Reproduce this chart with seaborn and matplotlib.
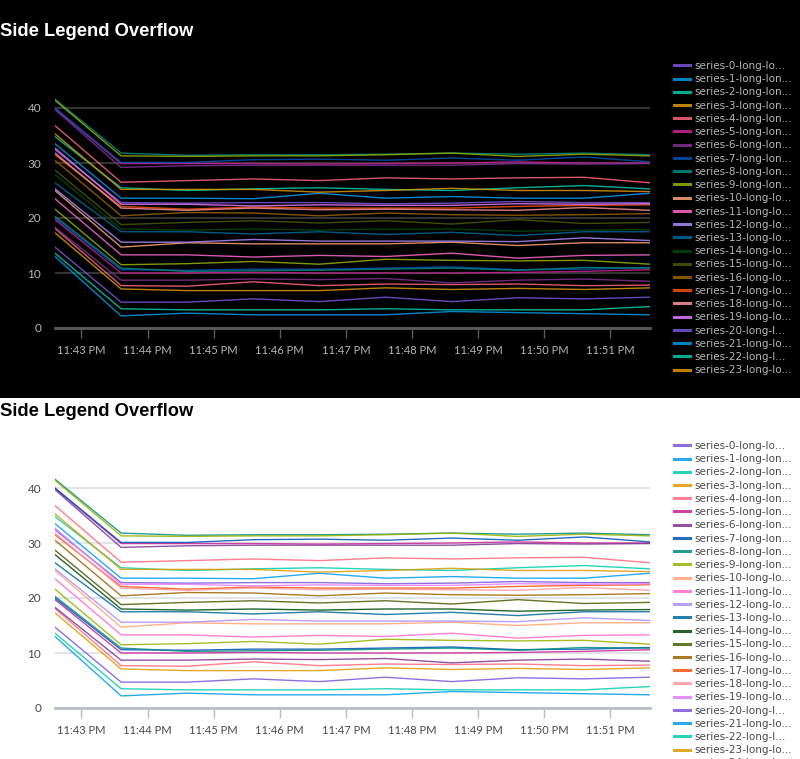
import numpy as np
import pandas as pd
import seaborn as sns
import matplotlib.pyplot as plt
import matplotlib.dates as mdates
from matplotlib.patches import Rectangle

# minutes of the timeline (first point is at 11:42:36 PM)
times = pd.date_range('2023-01-01 23:42:36', periods=10, freq='1min')

# values per series
s0 = [32.4, 22.8, 22.7, 22.8, 22.8, 22.6, 22.7, 23.0, 22.8, 22.8]
s1 = [33.5, 23.6, 23.6, 23.5, 24.5, 23.6, 23.9, 23.6, 23.6, 24.5]
s2 = [34.8, 25.5, 25.0, 25.3, 25.5, 25.2, 25.0, 25.5, 25.9, 25.3]
s3 = [35.3, 25.2, 25.2, 25.2, 24.7, 25.0, 25.4, 25.0, 25.0, 24.8]
s4 = [36.8, 26.5, 26.8, 27.1, 26.8, 27.3, 27.1, 27.3, 27.4, 26.4]
s5 = [39.9, 29.9, 29.9, 29.9, 29.8, 29.9, 30.0, 30.2, 30.0, 30.0]
s6 = [39.7, 29.2, 29.5, 29.6, 29.6, 29.6, 29.6, 29.9, 29.8, 29.9]
s7 = [40.0, 30.1, 30.1, 30.6, 30.7, 30.5, 30.9, 30.5, 31.1, 30.2]
s8 = [41.6, 31.8, 31.4, 31.5, 31.5, 31.6, 31.8, 31.6, 31.8, 31.5]
s9 = [41.4, 31.3, 31.2, 31.3, 31.3, 31.5, 31.8, 31.2, 31.6, 31.3]
s10 = [25.0, 14.7, 15.5, 15.3, 15.3, 15.3, 15.6, 15.0, 15.5, 15.5]
s11 = [23.5, 13.3, 13.3, 12.9, 13.2, 13.0, 13.6, 12.7, 13.2, 13.3]
s12 = [25.3, 15.6, 15.6, 16.1, 15.8, 15.8, 15.8, 15.7, 16.4, 15.9]
s13 = [26.4, 17.5, 17.5, 17.1, 17.5, 17.0, 17.4, 16.8, 17.5, 17.5]
s14 = [27.9, 18.0, 17.8, 18.0, 17.8, 18.0, 18.0, 17.6, 17.8, 17.9]
s15 = [28.7, 18.8, 19.2, 19.5, 19.1, 19.5, 18.9, 19.7, 19.0, 19.2]
s16 = [30.5, 20.4, 21.0, 20.9, 20.4, 20.9, 20.6, 20.5, 20.6, 20.8]
s17 = [31.5, 22.1, 21.6, 22.0, 21.8, 21.8, 21.8, 22.1, 22.3, 22.4]
s18 = [31.8, 21.8, 21.4, 21.8, 21.5, 21.6, 21.5, 21.4, 21.9, 21.4]
s19 = [32.7, 22.5, 22.5, 22.2, 22.4, 22.3, 22.3, 22.6, 22.5, 22.6]
s20 = [14.7, 4.7, 4.7, 5.3, 4.8, 5.6, 4.8, 5.5, 5.3, 5.6]
s21 = [13.0, 2.2, 2.7, 2.4, 2.4, 2.4, 3.0, 2.8, 2.6, 2.4]
s22 = [13.6, 3.5, 3.3, 3.3, 3.3, 3.5, 3.3, 3.3, 3.3, 3.9]
s23 = [17.3, 7.1, 6.8, 6.8, 6.8, 7.3, 7.0, 7.2, 7.0, 7.3]
s24 = [18.1, 7.7, 7.6, 8.4, 7.7, 8.0, 7.9, 8.0, 7.7, 7.8]
s25 = [19.7, 10.0, 10.0, 10.1, 10.0, 10.0, 10.0, 10.1, 10.3, 10.6]
s26 = [18.3, 8.7, 8.7, 8.9, 8.8, 9.0, 8.2, 8.7, 8.9, 8.5]
s27 = [20.0, 10.6, 10.5, 10.7, 10.7, 10.9, 11.1, 10.6, 10.7, 11.0]
s28 = [20.3, 10.9, 10.3, 10.4, 10.5, 10.7, 10.9, 10.5, 11.0, 10.9]
s29 = [21.6, 11.5, 11.7, 12.1, 11.6, 12.5, 12.3, 12.2, 12.3, 11.6]
series_values = [s0, s1, s2, s3, s4, s5, s6, s7, s8, s9,
                 s10, s11, s12, s13, s14, s15, s16, s17, s18, s19,
                 s20, s21, s22, s23, s24, s25, s26, s27, s28, s29]

series_names = ['series-%d-long-long-long-name' % i for i in range(30)]
legend_labels = ['series-0-long-lo...'] + \
    ['series-%d-long-lon...' % i for i in range(1, 10)] + \
    ['series-%d-long-lo...' % i for i in range(10, 20)] + \
    ['series-20-long-l...', 'series-21-long-lo...', 'series-22-long-l...'] + \
    ['series-%d-long-lo...' % i for i in range(23, 30)]

palette = ['#7B56DB', '#009CEB', '#00CDAF', '#DD9900', '#FF677B', '#CB2196',
           '#813193', '#0051B5', '#008C80', '#99B100', '#FFA476', '#FF6ACE',
           '#AE8CFF', '#00689D', '#00490A', '#465D00', '#9D6300', '#F6540B',
           '#FF969E', '#E47BFE']
colors = [palette[i % 20] for i in range(30)]

rows = []
for name, vals in zip(series_names, series_values):
    for t, v in zip(times, vals):
        rows.append({'time': t, 'value': v, 'series': name})
df = pd.DataFrame(rows)

W, H = 800, 759
fig = plt.figure(figsize=(8, 7.59), dpi=100)
fig.patch.set_facecolor('white')
fig.add_artist(Rectangle((0, 1 - 398 / H), 1, 398 / H, transform=fig.transFigure,
                         facecolor='black', edgecolor='none', zorder=-10))

themes = [
    dict(offset=0, fg='white', tick='#b5b5b5', grid='#333333', axis='#5a5a5a', clip=(0, 378)),
    dict(offset=380, fg='black', tick='#4a4a4a', grid='#e1e4e8', axis='#b8bec6', clip=(398, 759)),
]

ymax = 42.5
for th in themes:
    off = th['offset']
    y0 = 328 + off
    ax = fig.add_axes([55 / W, 1 - y0 / H, 595 / W, ymax * 5.5 / H])
    ax.set_facecolor('none')
    sns.lineplot(data=df, x='time', y='value', hue='series', hue_order=series_names,
                 palette=colors, linewidth=1.0, alpha=0.85, ax=ax, legend=True)
    handles, _ = ax.get_legend_handles_labels()
    ax.get_legend().remove()

    ax.set_xlim(times[0], times[-1])
    ax.set_ylim(0, ymax)
    ax.set_yticks([0, 10, 20, 30, 40])
    ax.xaxis.set_major_locator(mdates.MinuteLocator())
    ax.xaxis.set_major_formatter(mdates.DateFormatter('%-I:%M %p'))
    ax.grid(axis='y', color=th['grid'], linewidth=1.5)
    ax.grid(axis='x', visible=False)
    ax.set_axisbelow(True)
    for s in ['top', 'right', 'left']:
        ax.spines[s].set_visible(False)
    ax.spines['bottom'].set_color(th['axis'])
    ax.spines['bottom'].set_linewidth(2)
    ax.tick_params(axis='x', length=7, width=1, color=th['axis'], pad=5,
                   labelcolor=th['tick'], labelsize=8)
    ax.tick_params(axis='y', length=0, pad=10, labelcolor=th['tick'], labelsize=8.5)
    for lab in ax.get_xticklabels() + ax.get_yticklabels():
        lab.set_family(['Lato', 'DejaVu Sans'])
    ax.set_xlabel('')
    ax.set_ylabel('')

    for h in handles:
        h.set_linewidth(2.2)
    leg = fig.legend(handles, legend_labels, loc='upper left',
                     bbox_to_anchor=(674 / W, 1 - (61 + off) / H),
                     frameon=False, labelspacing=0.31,
                     handlelength=1.5, handletextpad=0.45, borderaxespad=0,
                     borderpad=0, prop={'family': ['DejaVu Sans'], 'size': 7.5})
    for txt in leg.get_texts():
        txt.set_color(th['tick'])

    # the legend is cut off at the lower edge of its panel
    top, bottom = th['clip']
    clip = Rectangle((0, 1 - bottom / H), 1, (bottom - top) / H,
                     transform=fig.transFigure, facecolor='none', edgecolor='none')
    for art in list(leg.get_texts()) + list(leg.legend_handles):
        art.set_clip_path(clip)

    fig.text(0, 1 - (36 + off) / H, 'Side Legend Overflow', color=th['fg'],
             fontsize=13.2, fontweight='bold', family=['Liberation Sans', 'DejaVu Sans'],
             va='baseline', ha='left')

fig.savefig('out.png', dpi=100)
